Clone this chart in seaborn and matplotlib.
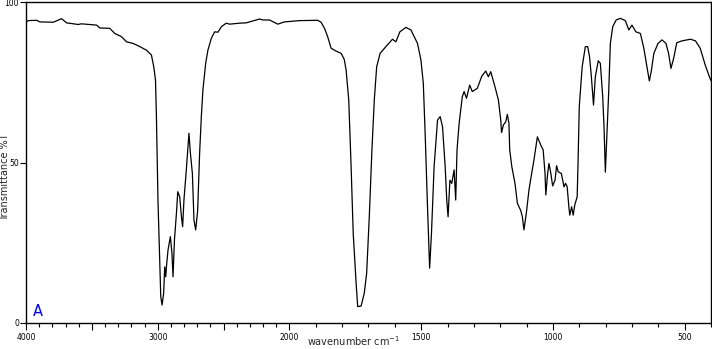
import numpy as np
import matplotlib
matplotlib.use("Agg")
import matplotlib.pyplot as plt
import seaborn as sns

# ---- data ----
wavenumber = [4000, 3983, 3919, 3894, 3793, 3730, 3692, 3604, 3578, 3464, 3439, 3364, 3326, 3275,
              3237, 3187, 3136, 3086, 3048, 3030, 3017, 3010, 2998, 2985, 2977, 2967, 2955, 2947,
              2939, 2934, 2922, 2904, 2892, 2884, 2873, 2858, 2848, 2833, 2820, 2811, 2801, 2783,
              2763, 2752, 2737, 2725, 2712, 2697, 2682, 2669, 2657, 2636, 2619, 2593, 2568, 2543,
              2517, 2480, 2454, 2379, 2328, 2227, 2202, 2151, 2089, 2038, 1962, 1893, 1880, 1867,
              1855, 1842, 1823, 1804, 1792, 1785, 1775, 1766, 1758, 1747, 1741, 1728, 1716, 1707,
              1697, 1687, 1678, 1669, 1656, 1634, 1609, 1596, 1581, 1558, 1539, 1514, 1501, 1492,
              1485, 1476, 1468, 1461, 1451, 1438, 1428, 1419, 1409, 1403, 1398, 1391, 1384, 1375,
              1369, 1364, 1356, 1344, 1337, 1328, 1316, 1306, 1287, 1270, 1255, 1245, 1236, 1220,
              1207, 1198, 1195, 1188, 1179, 1173, 1167, 1164, 1156, 1144, 1135, 1122, 1116, 1110,
              1101, 1091, 1085, 1072, 1059, 1046, 1037, 1030, 1027, 1020, 1015, 1008, 1001, 992,
              986, 980, 968, 958, 952, 946, 939, 936, 929, 923, 917, 908, 905, 900,
              889, 877, 868, 861, 854, 846, 839, 828, 820, 811, 806, 801, 795, 788,
              782, 773, 760, 744, 725, 712, 700, 685, 668, 655, 642, 634, 626, 617,
              601, 586, 571, 561, 552, 542, 530, 510, 478, 459, 441, 422, 406, 400]
transmittance = [93.7, 94.2, 94.3, 93.8, 93.7, 94.8, 93.5, 93.0, 93.2, 92.8, 91.9, 91.8, 90.2, 89.2,
                 87.6, 87.1, 86.1, 85.0, 83.5, 79.8, 75.7, 64.3, 38.0, 19.6, 8.2, 5.6, 9.3, 17.5,
                 14.4, 17.5, 22.7, 26.9, 21.7, 14.4, 25.9, 34.2, 40.9, 39.3, 33.1, 30.0, 38.3, 47.7,
                 59.1, 52.9, 46.6, 32.1, 29.0, 35.0, 52.9, 64.3, 72.6, 80.9, 85.0, 88.7, 90.7, 90.6,
                 92.3, 93.4, 93.1, 93.4, 93.5, 94.7, 94.4, 94.4, 93.1, 93.8, 94.2, 94.3, 93.7, 91.8,
                 89.2, 85.6, 84.7, 84.0, 82.1, 78.8, 69.5, 48.7, 27.9, 12.4, 5.1, 5.3, 9.3, 15.5,
                 33.1, 53.9, 69.5, 79.8, 84.0, 86.1, 88.4, 87.6, 90.7, 92.1, 91.3, 87.1, 81.9, 74.7,
                 59.1, 36.2, 17.1, 27.9, 48.7, 63.2, 64.3, 61.1, 48.7, 38.3, 33.1, 44.5, 43.5, 47.7,
                 38.3, 53.9, 62.2, 70.5, 72.1, 70.0, 74.1, 72.1, 73.1, 76.9, 78.5, 76.7, 78.3, 73.6,
                 69.5, 63.2, 59.3, 61.7, 62.7, 65.0, 62.2, 53.9, 48.7, 43.5, 37.3, 35.0, 33.1, 29.0,
                 34.2, 41.4, 44.5, 50.8, 58.0, 55.4, 53.9, 46.6, 39.9, 46.6, 49.7, 46.6, 42.7, 44.5,
                 49.0, 47.1, 46.6, 42.4, 43.5, 42.5, 35.7, 33.6, 36.2, 33.6, 36.8, 39.3, 48.7, 67.4,
                 79.8, 86.1, 86.1, 82.9, 76.7, 67.9, 76.7, 81.7, 80.9, 70.5, 61.1, 47.0, 59.1, 72.6,
                 87.1, 92.3, 94.4, 94.9, 94.2, 91.3, 92.8, 90.7, 90.2, 85.6, 79.3, 75.4, 78.8, 84.0,
                 87.1, 88.2, 87.1, 84.0, 79.3, 82.4, 87.3, 87.9, 88.4, 87.9, 85.6, 80.4, 76.7, 75.5]

major_ticks = [4000, 3500, 3000, 2500, 2000, 1500, 1000, 500]
major_labels = ["4000", "", "3000", "", "2000", "1500", "1000", "500"]
y_ticks = [0, 50, 100]
y_labels = ["0", "50", "100"]

sns.set_style("ticks")
plt.rcParams['font.family'] = ['DejaVu Sans']

fig = plt.figure(figsize=(7.12, 3.49), dpi=100)
ax = fig.add_axes([26 / 712, 26 / 349, 685 / 712, 321 / 349])


def fwd(w):
    w = np.asarray(w, dtype=float)
    return np.where(w > 2000, 2000 + (w - 2000) / 2.0, w)


def inv(u):
    u = np.asarray(u, dtype=float)
    return np.where(u > 2000, 2000 + (u - 2000) * 2.0, u)


ax.set_xscale('function', functions=(fwd, inv))
sns.lineplot(x=wavenumber, y=transmittance, sort=False, estimator=None,
             color='black', linewidth=0.9, ax=ax)
ax.set_xlim(4000, 400)
ax.set_ylim(0, 100)

ax.set_xticks(major_ticks)
ax.set_xticklabels(major_labels)
ax.set_xticks(list(range(400, 4001, 100)), minor=True)
ax.set_yticks(y_ticks)
ax.set_yticklabels(y_labels)
ax.tick_params(axis='x', which='major', length=5, width=0.8, labelsize=5.5, pad=2, colors='black')
ax.tick_params(axis='x', which='minor', length=3, width=0.8, colors='black')
ax.tick_params(axis='y', which='major', length=4, width=0.8, labelsize=5.5, pad=1, colors='black')
ax.tick_params(axis='y', which='minor', length=0)

for s in ax.spines.values():
    s.set_visible(True)
    s.set_color('black')
    s.set_linewidth(1.0)

ax.set_xlabel("wavenumber cm$^{-1}$", fontsize=7, labelpad=1)
ax.xaxis.set_label_coords(0.478, -0.034)
ax.set_ylabel("Transmittance %T", fontsize=7)
ax.yaxis.set_label_coords(-0.024, 0.455)

ax.text(0.0175, 0.022, "A", transform=ax.transAxes, color='#0000ff',
        fontsize=10.5, ha='center', va='baseline')

fig.savefig("out.png", dpi=100)
